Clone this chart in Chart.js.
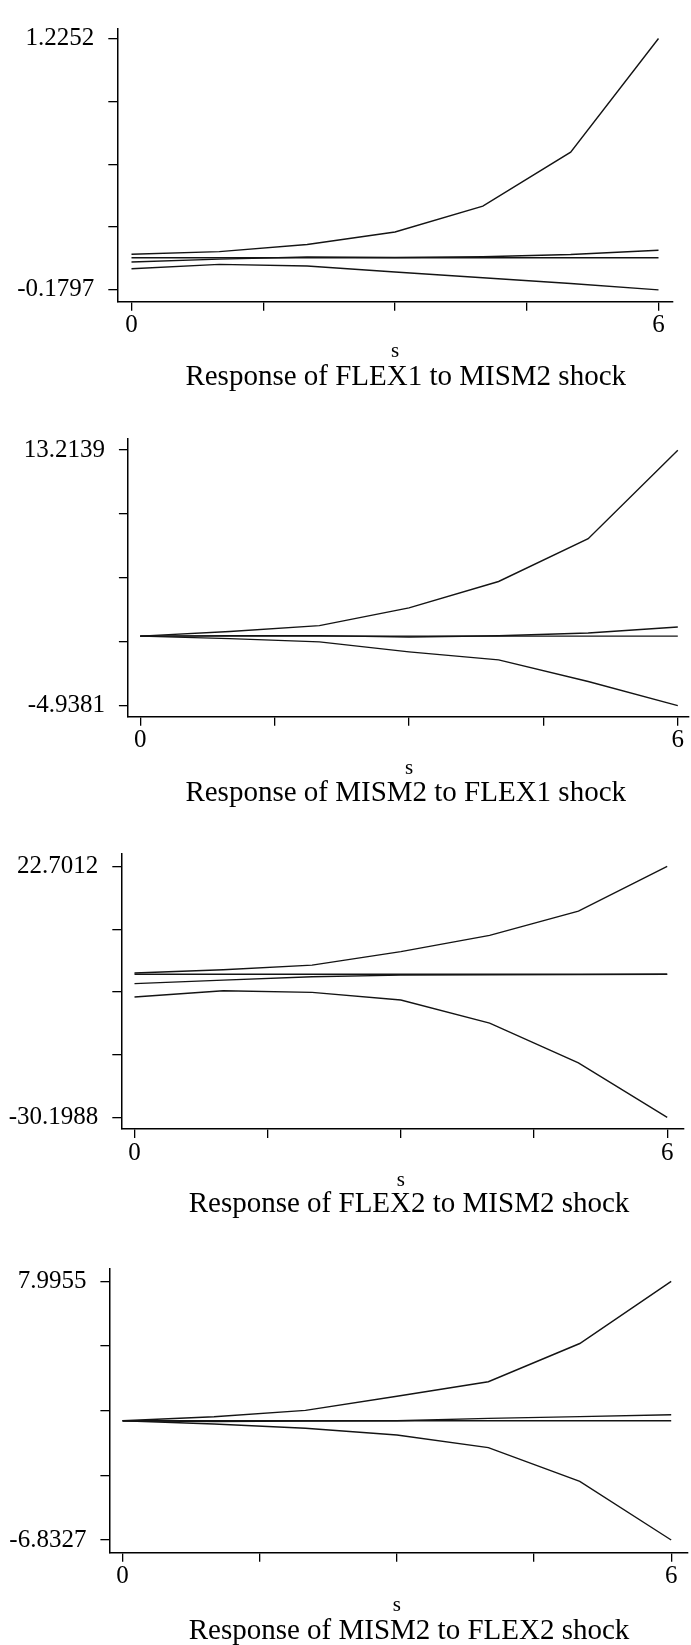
<!DOCTYPE html>
<html>
<head>
<meta charset="utf-8">
<title>Impulse responses</title>
<script src="https://cdn.jsdelivr.net/npm/chart.js@4.4.1/dist/chart.umd.min.js"></script>
<style>
  html, body { margin: 0; padding: 0; background: #fff; }
  body { position: relative; width: 691px; height: 1645px; overflow: hidden; }
  canvas { position: absolute; left: 0; }
</style>
</head>
<body>
<canvas id="irf1" width="691" height="410" style="top:0px"></canvas>
<canvas id="irf2" width="691" height="415" style="top:410px"></canvas>
<canvas id="irf3" width="691" height="415" style="top:825px"></canvas>
<canvas id="irf4" width="691" height="405" style="top:1240px"></canvas>
<script>
// horizon s and the x tick marks
const steps = [0, 1, 2, 3, 4, 5, 6];
const xTicks = [0, 1.5, 3, 4.5, 6];
const xTickLabels = ['0', '', '', '', '6'];
const zeroLine = [0, 0, 0, 0, 0, 0, 0];

// FLEX1 to MISM2
const flex1Upper = [0.019, 0.034, 0.074, 0.144, 0.288, 0.590, 1.2252];
const flex1Resp  = [-0.024, -0.008, 0.004, 0.001, 0.005, 0.018, 0.042];
const flex1Lower = [-0.062, -0.037, -0.046, -0.080, -0.112, -0.144, -0.1797];
const flex1Ticks = ['1.2252', '-0.1797'];

// MISM2 to FLEX1
const mism2aUpper = [0, 0.32, 0.74, 2.0, 3.88, 6.92, 13.2139];
const mism2aResp  = [0, 0.03, 0.03, -0.07, 0.02, 0.22, 0.65];
const mism2aLower = [0, -0.18, -0.41, -1.12, -1.69, -3.23, -4.9381];
const mism2aTicks = ['13.2139', '-4.9381'];

// FLEX2 to MISM2
const flex2Upper = [0.26, 0.92, 1.9, 4.75, 8.17, 13.3, 22.7012];
const flex2Resp  = [-2.0, -1.25, -0.53, -0.2, -0.15, -0.1, -0.02];
const flex2Lower = [-4.8, -3.5, -3.83, -5.45, -10.3, -18.7, -30.1988];
const flex2Ticks = ['22.7012', '-30.1988'];

// MISM2 to FLEX2
const mism2bUpper = [0, 0.235, 0.60, 1.41, 2.24, 4.43, 7.9955];
const mism2bResp  = [0, -0.04, -0.02, 0.0, 0.14, 0.24, 0.35];
const mism2bLower = [0, -0.18, -0.43, -0.81, -1.54, -3.47, -6.8327];
const mism2bTicks = ['7.9955', '-6.8327'];

const captions = [
  'Response of FLEX1 to MISM2 shock',
  'Response of MISM2 to FLEX1 shock',
  'Response of FLEX2 to MISM2 shock',
  'Response of MISM2 to FLEX2 shock'
];

const SERIF = '"Liberation Serif", "Times New Roman", serif';
const INK = '#141414';

// page layout of each panel: axis frame and where the end ticks sit
const panels = [
  { id: 'irf1', top: 0, height: 410, series: [flex1Upper, flex1Resp, flex1Lower], labels: flex1Ticks,
    frame: { left: 117.3, right: 672.7, top: 16, bottom: 301.7 }, x0: 131.5, x6: 658.5, yHi: 26, yLo: 289.3,
    sY: 356.7, capX: 405.7, capY: 384.5 },
  { id: 'irf2', top: 410, height: 415, series: [mism2aUpper, mism2aResp, mism2aLower], labels: mism2aTicks,
    frame: { left: 127.9, right: 689, top: 425, bottom: 716.7 }, x0: 140.2, x6: 677.8, yHi: 436.7, yLo: 705,
    sY: 774, capX: 405.7, capY: 801 },
  { id: 'irf3', top: 825, height: 415, series: [flex2Upper, flex2Resp, flex2Lower], labels: flex2Ticks,
    frame: { left: 121.3, right: 683.6, top: 836, bottom: 1129 }, x0: 134.5, x6: 667.2, yHi: 849.3, yLo: 1116.7,
    sY: 1186, capX: 409, capY: 1212 },
  { id: 'irf4', top: 1240, height: 405, series: [mism2bUpper, mism2bResp, mism2bLower], labels: mism2bTicks,
    frame: { left: 109.4, right: 688, top: 1253, bottom: 1552.7 }, x0: 122.6, x6: 671.2, yHi: 1266, yLo: 1539.3,
    sY: 1611, capX: 409, capY: 1639 }
];

// "s" under the axis and the panel caption
const captionPlugin = {
  id: 'caption',
  afterDraw(chart, args, opts) {
    const ctx = chart.ctx;
    const xs = chart.scales.x;
    const mid = (xs.getPixelForValue(steps[0]) + xs.getPixelForValue(steps[steps.length - 1])) / 2;
    ctx.save();
    ctx.fillStyle = '#000';
    ctx.textAlign = 'center';
    ctx.textBaseline = 'alphabetic';
    ctx.font = '21px ' + SERIF;
    ctx.fillText('s', mid, opts.sY);
    ctx.font = '29px ' + SERIF;
    ctx.fillText(opts.text, opts.x, opts.y);
    ctx.restore();
  }
};

function toPoints(values) {
  return steps.map((s, i) => ({ x: s, y: values[i] }));
}

function lineSet(values) {
  return {
    data: toPoints(values),
    borderColor: INK,
    borderWidth: 1.4,
    pointRadius: 0,
    tension: 0,
    fill: false
  };
}

panels.forEach((p, k) => {
  const yMax = parseFloat(p.labels[0]);
  const yMin = parseFloat(p.labels[1]);
  const yTicks = [0, 1, 2, 3, 4].map(i => yMin + (yMax - yMin) * i / 4);

  // stretch the scales so the axis lines sit a little outside the data
  const xPx = (p.x6 - p.x0) / 6;
  const yPx = (p.yLo - p.yHi) / (yMax - yMin);
  const xMin = 0 - (p.x0 - p.frame.left) / xPx;
  const xMax = 6 + (p.frame.right - p.x6) / xPx;
  const yTop = yMax + (p.yHi - p.frame.top) / yPx;
  const yBot = yMin - (p.frame.bottom - p.yLo) / yPx;

  new Chart(document.getElementById(p.id), {
    type: 'line',
    data: {
      datasets: [
        lineSet(zeroLine),
        ...p.series.map(lineSet)
      ]
    },
    plugins: [captionPlugin],
    options: {
      responsive: false,
      animation: false,
      layout: {
        autoPadding: false,
        padding: { top: p.frame.top - p.top, right: 691 - p.frame.right, left: 0, bottom: 0 }
      },
      plugins: {
        legend: { display: false },
        tooltip: { enabled: false },
        caption: { text: captions[k], x: p.capX, y: p.capY - p.top, sY: p.sY - p.top }
      },
      scales: {
        x: {
          type: 'linear',
          min: xMin,
          max: xMax,
          afterFit: (scale) => { scale.height = p.top + p.height - p.frame.bottom; },
          afterBuildTicks: (scale) => { scale.ticks = xTicks.map(v => ({ value: v })); },
          border: { display: true, color: '#000', width: 1.5 },
          grid: { drawOnChartArea: false, drawTicks: true, tickLength: 9, color: '#000', lineWidth: 1.3 },
          ticks: {
            autoSkip: false,
            maxRotation: 0,
            padding: 0,
            color: '#000',
            font: { family: SERIF, size: 25 },
            callback: (v, i) => xTickLabels[i]
          }
        },
        y: {
          type: 'linear',
          min: yBot,
          max: yTop,
          afterFit: (scale) => { scale.width = p.frame.left; },
          afterBuildTicks: (scale) => { scale.ticks = yTicks.map(v => ({ value: v })); },
          border: { display: true, color: '#000', width: 1.5 },
          grid: { drawOnChartArea: false, drawTicks: true, tickLength: 9, color: '#000', lineWidth: 1.3 },
          ticks: {
            autoSkip: false,
            padding: 14,
            color: '#000',
            font: { family: SERIF, size: 25 },
            callback: (v, i) => (i === 0 ? p.labels[1] : i === yTicks.length - 1 ? p.labels[0] : '')
          }
        }
      }
    }
  });
});
</script>
</body>
</html>
